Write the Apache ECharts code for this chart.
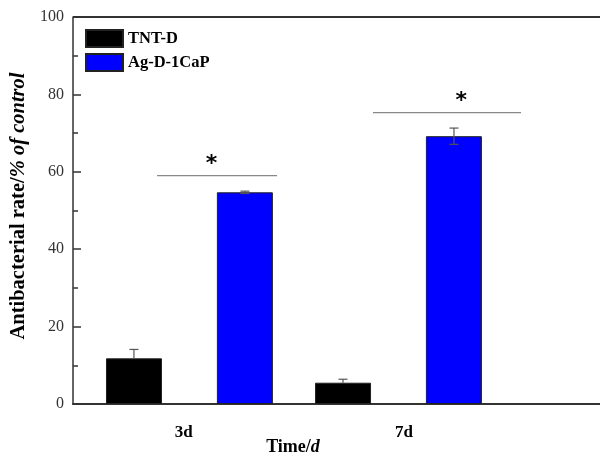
<!DOCTYPE html>
<html><head><meta charset="utf-8">
<script src="https://cdn.jsdelivr.net/npm/echarts@6/dist/echarts.min.js"></script>
<style>html,body{margin:0;padding:0;background:#fff}#c{width:600px;height:453px}</style>
</head><body><div id="c"></div>
<script>
const categories = ['3d', '7d'];
const seriesNames = ['TNT-D', 'Ag-D-1CaP'];
const tntValues = [11.8, 5.5];
const tntErrors = [2.3, 0.9];
const agValues = [54.7, 69.2];
const agErrors = [0.3, 2.1];
const yTicks = [0, 20, 40, 60, 80, 100];
// significance annotations: [xStart, xEnd, y] in category-index units / value units
const sigLines = [[-0.155, 0.419, 59.0], [0.878, 1.586, 75.3]];
const sigStars = [[0.105, 62.0, '*'], [1.30, 78.2, '*']];

const SERIF = '"Liberation Serif","Times New Roman",serif';
const chart = echarts.init(document.getElementById('c'));
const half = 55.5;
function errItem(off, showDown) {
  return function (params, api) {
    const i = api.value(0);
    const v = api.value(1), e = api.value(2);
    const top = api.coord([i, v + e]);
    const mid = api.coord([i, v]);
    const bot = api.coord([i, v - e]);
    const x = top[0] + off;
    const style = { stroke: '#555', lineWidth: 1.2 };
    const ch = [
      { type: 'line', shape: { x1: x, y1: top[1], x2: x, y2: showDown ? bot[1] : mid[1] }, style },
      { type: 'line', shape: { x1: x - 4.5, y1: top[1], x2: x + 4.5, y2: top[1] }, style }
    ];
    if (showDown) ch.push({ type: 'line', shape: { x1: x - 4.5, y1: bot[1], x2: x + 4.5, y2: bot[1] }, style });
    return { type: 'group', children: ch };
  };
}
chart.setOption({
  animation: false,
  grid: { left: 73, right: 0, top: 17, bottom: 49 },
  legend: {
    orient: 'vertical', left: 85, top: 29, padding: 0, itemWidth: 37, itemHeight: 17, itemGap: 5,
    icon: 'rect',
    data: seriesNames,
    textStyle: { fontFamily: SERIF, fontWeight: 'bold', fontSize: 16.5, color: '#000' }
  },
  xAxis: {
    type: 'value', min: -0.557, max: 1.964,
    splitLine: { show: false },
    axisLine: { show: true, onZero: false, lineStyle: { color: '#333', width: 2 } },
    axisTick: { show: false },
    axisLabel: {
      customValues: categories.map((c, i) => i + (i === 0 ? -0.027 : 0.026)), margin: 20,
      formatter: v => categories[Math.round(v)] || '',
      fontFamily: SERIF, fontWeight: 'bold', fontSize: 17, color: '#000'
    }
  },
  yAxis: {
    type: 'value', min: 0, max: 100, interval: 20,
    splitLine: { show: false },
    axisLine: { show: true, onZero: false, lineStyle: { color: '#333', width: 1.5 } },
    axisTick: { show: true, inside: true, length: 8, lineStyle: { color: '#333', width: 1.5 } },
    minorTick: { show: true, splitNumber: 2, length: 5, lineStyle: { color: '#333', width: 1.5 } },
    axisLabel: { margin: 9, fontFamily: SERIF, fontSize: 16, color: '#333',
      customValues: yTicks }
  },
  graphic: [
    { type: 'line', shape: { x1: 73, y1: 17, x2: 600, y2: 17 }, style: { stroke: '#333', lineWidth: 2 } },
    { type: 'text', x: 19, y: 206, rotation: Math.PI / 2,
      style: { text: '{a|Antibacterial rate/}{b|% of control}', align: 'center', verticalAlign: 'middle',
        rich: { a: { fontFamily: SERIF, fontWeight: 'bold', fontSize: 20.5, fill: '#000' },
                b: { fontFamily: SERIF, fontWeight: 'bold', fontStyle: 'italic', fontSize: 20.5, fill: '#000' } } } },
    { type: 'text', x: 293, y: 447,
      style: { text: '{a|Time/}{b|d}', align: 'center', verticalAlign: 'middle',
        rich: { a: { fontFamily: SERIF, fontWeight: 'bold', fontSize: 18, fill: '#000' },
                b: { fontFamily: SERIF, fontWeight: 'bold', fontStyle: 'italic', fontSize: 18, fill: '#000' } } } }
  ],
  series: [
    { name: seriesNames[0], type: 'bar', barWidth: 56, barGap: '98%',
      itemStyle: { color: '#000', borderColor: '#222', borderWidth: 1 },
      data: tntValues.map((v, i) => [i, v]) },
    { name: seriesNames[1], type: 'bar', barWidth: 56, barGap: '98%',
      itemStyle: { color: '#0000ff', borderColor: '#222', borderWidth: 1 },
      data: agValues.map((v, i) => [i, v]) },
    { type: 'custom', renderItem: errItem(-half, false), z: 5,
      data: tntValues.map((v, i) => [i, v, tntErrors[i]]) },
    { type: 'custom', renderItem: errItem(half, true), z: 5,
      data: agValues.map((v, i) => [i, v, agErrors[i]]) },
    { type: 'custom', z: 5,
      renderItem: function (params, api) {
        const a = api.coord([api.value(0), api.value(2)]);
        const b = api.coord([api.value(1), api.value(2)]);
        return { type: 'line', shape: { x1: a[0], y1: a[1], x2: b[0], y2: b[1] },
          style: { stroke: '#888', lineWidth: 1.2 } };
      },
      data: sigLines },
    { type: 'custom', z: 5,
      renderItem: function (params, api) {
        const p = api.coord([api.value(0), api.value(1)]);
        return { type: 'text', x: p[0], y: p[1],
          style: { text: sigStars[params.dataIndex][2], align: 'center', verticalAlign: 'middle',
            fontFamily: '"DejaVu Sans",sans-serif', fontWeight: 'bold', fontSize: 22, fill: '#000' } };
      },
      data: sigStars.map(s => [s[0], s[1]]) }
  ]
});
</script></body></html>
